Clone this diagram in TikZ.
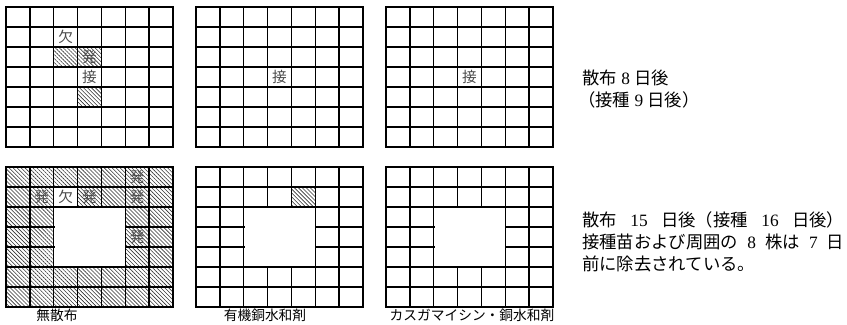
\documentclass[tikz,border=0pt]{standalone}
\usepackage{fontspec}
\setmainfont{Liberation Serif}
\newfontfamily\jp{Noto Sans CJK JP}
\usetikzlibrary{patterns.meta}
\newcommand{\cellw}{23.86}
\newcommand{\cellh}{20}
\tikzset{
  gridline/.style={line width=1pt,black,line cap=rect},
  hatchcell/.style={pattern={Lines[angle=-45,distance=2.1pt,line width=0.45pt]},pattern color=black!80},
  cellmark/.style={font=\jp\fontsize{11}{11}\selectfont,text=black!70,inner sep=0pt},
  caption/.style={font=\jp\fontsize{10.3}{12}\selectfont,inner sep=0pt},
  note/.style={font=\fontsize{13}{15}\selectfont,anchor=west,inner sep=0pt}
}

\begin{document}
\begin{tikzpicture}[x=0.75pt,y=-0.75pt]
  \useasboundingbox (0,0) rectangle (847,325);

  % hatched cells, top left grid
  \foreach \c/\r in {3/3,4/3,4/5}
    \fill[hatchcell] ({6+(\c-1)*\cellw},{7+(\r-1)*\cellh}) rectangle +(\cellw,\cellh);
  % hatched cells, bottom left grid (all but hole and one cell)
  \foreach \c in {1,...,7}
    \foreach \r in {1,...,7} {
      \pgfmathtruncatemacro\isgap{(\c>2 && \c<6 && \r>2 && \r<6) || (\c==3 && \r==2)}
      \ifnum\isgap=0
        \fill[hatchcell] ({6+(\c-1)*\cellw},{167+(\r-1)*\cellh}) rectangle +(\cellw,\cellh);
      \fi
    }
  % hatched cell, bottom middle grid
  \fill[hatchcell] ({196+4*\cellw},{167+\cellh}) rectangle +(\cellw,\cellh);

  % the six grids
  \foreach \gx in {6,196,386}
    \foreach \gy in {7,167}
      \foreach \i in {0,...,7} {
        \draw[gridline] ({\gx+\i*\cellw},\gy) -- ++(0,{7*\cellh});
        \draw[gridline] (\gx,{\gy+\i*\cellh}) -- ++({7*\cellw},0);
      }
  % removed plants in the bottom row
  \foreach \gx in {6,196,386}
    \fill[white] ({\gx+2*\cellw+0.8},{167+2*\cellh+0.8}) rectangle ({\gx+5*\cellw-0.8},{167+5*\cellh-0.8});

  % cell marks
  \node[cellmark] (ketsuA) at ({6+2.5*\cellw},{7+1.5*\cellh}) {欠};
  \node[cellmark] (hatsuA) at ({6+3.5*\cellw},{7+2.5*\cellh}) {発};
  \node[cellmark] (setsuA) at ({6+3.5*\cellw},{7+3.5*\cellh}) {接};
  \node[cellmark] (setsuB) at ({196+3.5*\cellw},{7+3.5*\cellh}) {接};
  \node[cellmark] (setsuC) at ({386+3.5*\cellw},{7+3.5*\cellh}) {接};
  \node[cellmark] (ketsuD) at ({6+2.5*\cellw},{167+1.5*\cellh}) {欠};
  \foreach \c/\r [count=\k] in {6/1,2/2,4/2,6/2,6/4}
    \node[cellmark] (hatsuD\k) at ({6+(\c-0.5)*\cellw},{167+(\r-0.5)*\cellh}) {発};

  % captions
  \node[caption] (capA) at (57,315) {無散布};
  \node[caption] (capB) at (265,315) {有機銅水和剤};
  \node[caption] (capC) at (472,315) {カスガマイシン・銅水和剤};

  % notes
  \node[note] (noteA1) at (582,78) {{\jp 散布} 8 {\jp 日後}};
  \node[note] (noteA2) at (578,100) {{\jp （接種} 9 {\jp 日後）}};
  \node[note] (noteB1) at (582,220) {\makebox[196.5pt][s]{{\jp 散布} 15 {\jp 日後（接種} 16 {\jp 日後）}}};
  \node[note] (noteB2) at (582,242) {\makebox[196.5pt][s]{{\jp 接種苗および周囲の} 8 {\jp 株は} 7 {\jp 日}}};
  \node[note] (noteB3) at (582,264) {{\jp 前に除去されている。}};
\end{tikzpicture}
\end{document}
